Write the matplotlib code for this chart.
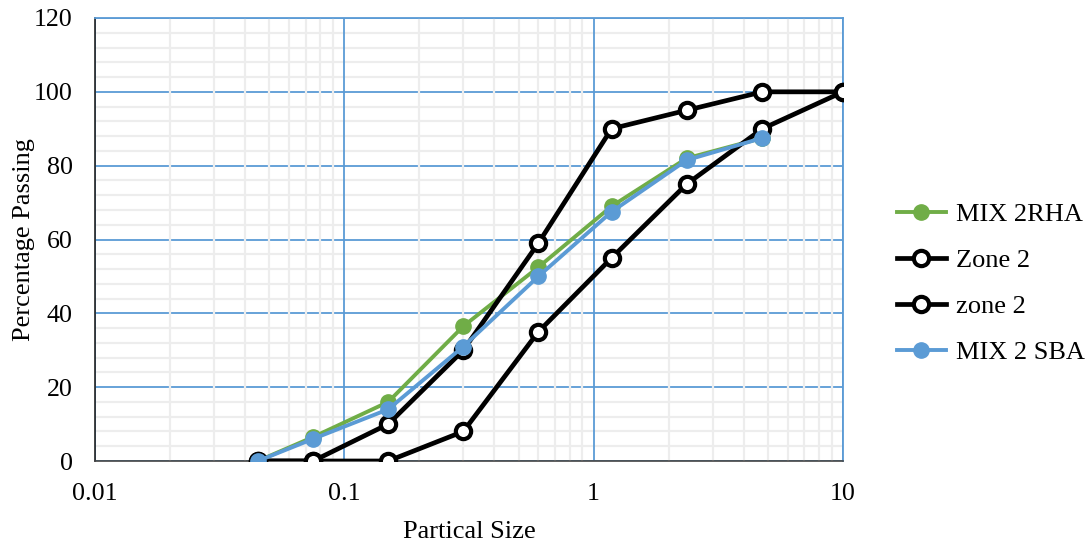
import matplotlib.pyplot as plt
from matplotlib.ticker import LogLocator, MultipleLocator, FixedLocator, FixedFormatter

plt.rcParams['font.family'] = ['Liberation Serif', 'DejaVu Serif']

# sieve sizes (mm)
size = [0.045, 0.075, 0.15, 0.3, 0.6, 1.18, 2.36, 4.75, 10]

mix_rha_x = [0.045, 0.075, 0.15, 0.3, 0.6, 1.18, 2.36, 4.75]
mix_rha = [0, 6.5, 16, 36.5, 52.5, 69, 82, 87.5]

zone2_upper = [0, 0, 10, 30, 59, 90, 95, 100, 100]
zone2_lower = [0, 0, 0, 8, 35, 55, 75, 90, 100]

mix_sba_x = [0.045, 0.075, 0.15, 0.3, 0.6, 1.18, 2.36, 4.75]
mix_sba = [0, 6, 14, 31, 50, 67.5, 81.5, 87.5]

green = '#70AD47'
blue = '#5B9BD5'

fig = plt.figure(figsize=(10.89, 5.44), dpi=100)
ax = fig.add_axes([95 / 1089, 1 - 461 / 544, (843 - 95) / 1089, (461 - 18) / 544])

ax.plot(mix_rha_x, mix_rha, color=green, lw=2.8, marker='o', ms=11,
        mfc=green, mec=green, label='MIX 2RHA', zorder=3)
ax.plot(size, zone2_upper, color='black', lw=3.4, marker='o', ms=11,
        mfc='white', mec='black', mew=3, label='Zone 2', zorder=4)
ax.plot(size, zone2_lower, color='black', lw=3.4, marker='o', ms=11,
        mfc='white', mec='black', mew=3, label='zone 2', zorder=4)
ax.plot(mix_sba_x, mix_sba, color=blue, lw=2.8, marker='o', ms=11,
        mfc=blue, mec=blue, label='MIX 2 SBA', zorder=5)

ax.set_xscale('log')
ax.set_xlim(0.01, 10)
ax.set_ylim(0, 120)
ax.xaxis.set_major_locator(FixedLocator([0.01, 0.1, 1, 10]))
ax.xaxis.set_major_formatter(FixedFormatter(['0.01', '0.1', '1', '10']))
ax.xaxis.set_minor_locator(LogLocator(base=10, subs=range(2, 10)))
ax.yaxis.set_major_locator(MultipleLocator(20))
ax.yaxis.set_minor_locator(MultipleLocator(4))

ax.grid(which='minor', color='#EDEDED', lw=1.6)
ax.grid(which='major', color=blue, lw=1.3)
ax.set_axisbelow(True)
# vertical grid lines on top of horizontal ones
ax.yaxis.set_zorder(0.5)
ax.xaxis.set_zorder(0.6)

for s in ['top', 'right']:
    ax.spines[s].set_color(blue)
    ax.spines[s].set_linewidth(1.3)
ax.spines['left'].set_color('#222222')
ax.spines['bottom'].set_color('#444444')
ax.spines['left'].set_linewidth(1.2)
ax.spines['bottom'].set_linewidth(1.2)

ax.tick_params(which='both', length=0, labelsize=18.7)
ax.tick_params(axis='y', pad=16)
ax.tick_params(axis='x', pad=16)
ax.set_xlabel('Partical Size', fontsize=19, labelpad=11)
ax.set_ylabel('Percentage Passing', fontsize=19)
ax.yaxis.set_label_coords(-0.080, 0.5)

ax.legend(loc='center left', bbox_to_anchor=(897 / 1089, 1 - 283.5 / 544),
          bbox_transform=fig.transFigure, frameon=False, borderpad=0,
          borderaxespad=0, fontsize=19, handlelength=1.85,
          labelspacing=0.85, handletextpad=0.4)

fig.savefig('out.png', dpi=100)
